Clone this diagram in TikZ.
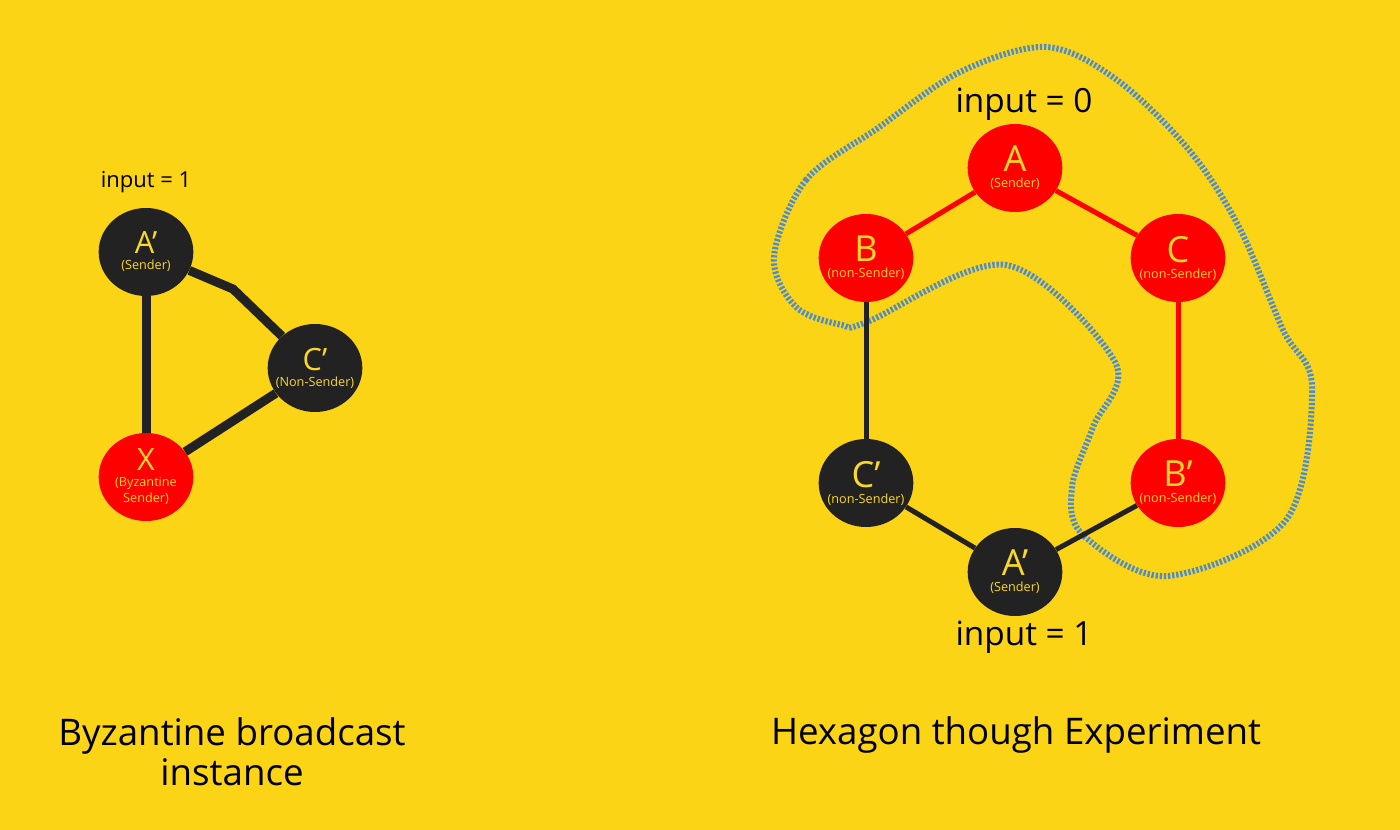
\documentclass[tikz,border=0pt]{standalone}
\usepackage{fontspec}
\setmainfont{Open Sans}
\usetikzlibrary{shapes.geometric}

\definecolor{bgyellow}{RGB}{251,212,22}
\definecolor{txtyellow}{RGB}{250,216,40}
\definecolor{nodeblack}{RGB}{34,34,34}
\definecolor{nodered}{RGB}{255,0,0}
\definecolor{loopblue}{RGB}{74,140,210}

\newcommand{\bigletter}[1]{{\fontsize{23}{23}\selectfont #1}}
\newcommand{\hexletter}[1]{{\fontsize{27}{27}\selectfont #1}}

\tikzset{
  peer/.style={ellipse, minimum width=71pt, minimum height=66pt,
    inner xsep=-6pt, inner ysep=0pt,
    align=center, text=txtyellow, font=\fontsize{9.5}{12}\selectfont},
  honest/.style={fill=nodeblack},
  faulty/.style={fill=nodered},
  thicklink/.style={draw=nodeblack, line width=6.75pt},
  hexlink/.style={line width=3.75pt},
  caption/.style={font=\fontsize{27.5}{30}\selectfont, align=center},
  inputlabel/.style={font=\fontsize{#1}{#1}\selectfont},
  viewloop/.style={draw=loopblue, line width=4.5pt, dash pattern=on 1.7pt off 1.4pt}
}

\begin{document}
\begin{tikzpicture}[x=0.75pt,y=0.75pt,yscale=-1,xscale=1]
%set diagram: 1400 x 830
\fill[bgyellow] (0,0) rectangle (1400,830);

%Shape: Dotted loop round the honest view
\draw[viewloop] plot[smooth cycle, tension=0.55] coordinates {
  (774,257) (806,180) (878,128) (960,72) (1046,47) (1117,80) (1189,150)
  (1239,227) (1283,330) (1312,387) (1286,520) (1167,576) (1083,535)
  (1072,487) (1093,427) (1115,362) (1006,265) (867,322) (842,325) (796,307)};

%Left: Byzantine broadcast instance
\node[inputlabel=16.5] (in1) at (146,182) {input = 1};
\node[peer, honest] (Ap) at (146,252) {\bigletter{A’}\\(Sender)};
\node[peer, honest] (Cp) at (315,368) {\bigletter{C’}\\(Non-Sender)};
\node[peer, faulty] (X) at (146,477) {\bigletter{X}\\(Byzantine\\Sender)};
\coordinate (kink) at (233,289);

%Straight Lines
\draw[thicklink] (Ap) -- (kink) -- (Cp);
\draw[thicklink] (Ap) -- (X);
\draw[thicklink] (Cp) -- (X);

\node[caption] (cap1) at (232,752) {Byzantine broadcast\\instance};

%Right: Hexagon
\node[inputlabel=25] (in0) at (1024,104) {input = 0};
\node[peer, faulty] (A) at (1015,168) {\hexletter{A}\\(Sender)};
\node[peer, faulty] (B) at (866,258) {\hexletter{B}\\(non-Sender)};
\node[peer, faulty] (C) at (1178,258) {\hexletter{C}\\(non-Sender)};
\node[peer, honest] (Cq) at (866,483) {\hexletter{C’}\\(non-Sender)};
\node[peer, faulty] (Bq) at (1178,483) {\hexletter{B’}\\(non-Sender)};
\node[peer, honest] (Aq) at (1015,572) {\hexletter{A’}\\(Sender)};
\node[inputlabel=25] (in1b) at (1024,637) {input = 1};

%Straight Lines
\draw[hexlink, nodered] (A) -- (B);
\draw[hexlink, nodered] (A) -- (C);
\draw[hexlink, nodered] (C) -- (Bq);
\draw[hexlink, nodeblack] (B) -- (Cq);
\draw[hexlink, nodeblack] (Cq) -- (Aq);
\draw[hexlink, nodeblack] (Aq) -- (Bq);

\node[caption] (cap2) at (1016,735) {Hexagon though Experiment};
\end{tikzpicture}
\end{document}
